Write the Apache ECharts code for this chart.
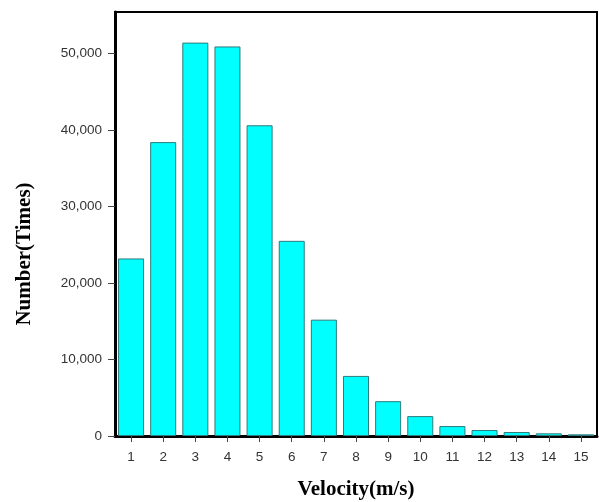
<!DOCTYPE html>
<html>
<head>
<meta charset="utf-8">
<script src="https://cdn.jsdelivr.net/npm/echarts@6/dist/echarts.min.js"></script>
<style>html,body{margin:0;padding:0;background:#fff}#c{width:599px;height:502px}</style>
</head>
<body>
<div id="c"></div>
<script>
const categories = ['1','2','3','4','5','6','7','8','9','10','11','12','13','14','15'];
const counts = [23200, 38400, 51400, 50900, 40600, 25500, 15200, 7850, 4550, 2600, 1300, 780, 520, 350, 220];
const yTicks = [0, 10000, 20000, 30000, 40000, 50000];
const xTitle = 'Velocity(m/s)';
const yTitle = 'Number(Times)';

const chart = echarts.init(document.getElementById('c'), null, {renderer: 'canvas'});
chart.setOption({
  animation: false,
  backgroundColor: '#fff',
  grid: {left: 115, right: 2, top: 12, bottom: 66, show: true, borderColor: '#000', borderWidth: 2,
    containLabel: false, outerBoundsMode: 'none'},
  xAxis: {
    type: 'category',
    data: categories,
    name: xTitle,
    nameLocation: 'middle',
    nameGap: 43,
    nameTextStyle: {fontFamily: 'Liberation Serif', fontWeight: 'bold', fontSize: 21, color: '#000'},
    axisLine: {show: true, lineStyle: {color: '#000', width: 3}},
    axisTick: {show: true, alignWithLabel: true, length: 6, lineStyle: {color: '#444', width: 1}},
    axisLabel: {margin: 14, fontFamily: 'Liberation Sans', fontSize: 13.5, color: '#333'}
  },
  yAxis: {
    type: 'value',
    min: 0,
    max: 55400,
    interval: 10000,
    name: yTitle,
    nameLocation: 'middle',
    nameGap: 80,
    nameTextStyle: {fontFamily: 'Liberation Serif', fontWeight: 'bold', fontSize: 21, color: '#000', padding: [0, 60, 0, 0]},
    axisLine: {show: true, lineStyle: {color: '#000', width: 3}},
    axisTick: {show: true, length: 7, customValues: yTicks, lineStyle: {color: '#444', width: 1}},
    axisLabel: {margin: 13, customValues: yTicks, fontFamily: 'Liberation Sans', fontSize: 13.5, color: '#333',
      formatter: v => v.toLocaleString('en-US')},
    splitLine: {show: false}
  },
  series: [{
    type: 'bar',
    data: counts,
    barCategoryGap: '19%',
    itemStyle: {color: '#00FFFF', borderColor: '#2f7a7c', borderWidth: 1}
  }]
});
</script>
</body>
</html>
